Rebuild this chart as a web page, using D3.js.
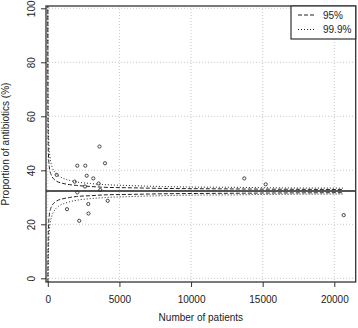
<!DOCTYPE html>
<html>
<head>
<meta charset="utf-8">
<script src="https://cdn.jsdelivr.net/npm/d3@7"></script>
<style>
  body { margin: 0; background: #fff; }
  svg text { font-family: "Liberation Sans", Arial, sans-serif; fill: #222; }
</style>
</head>
<body>
<div id="chart"></div>
<script>
  // Hospitals: number of patients and proportion receiving antibiotics (%)
  const nPatients = [3609, 2059, 2618, 3993, 2716, 3176, 621, 1878, 2597, 3553,
                     3665, 2059, 4181, 2827, 2841, 1340, 2192, 13717, 15211, 20656];
  const proportions = [48.8, 41.7, 41.7, 42.6, 38.0, 37.0, 38.3, 35.8, 34.0, 35.1,
                       32.7, 31.8, 28.7, 27.5, 24.0, 25.6, 21.3, 37.0, 34.8, 23.4];

  const overallMean = 32.3;

  // Funnel control limits
  const limitN = [1, 2, 3, 5, 8, 12, 20, 30, 50, 75, 100, 150, 200, 300, 500, 750,
                  1000, 1500, 2000, 3000, 4000, 6000, 8000, 10000, 13000, 16000, 20600];
  const upper95 = [124, 97.1, 85.2, 73.3, 64.7, 58.8, 52.8, 49.0, 45.3, 42.9, 41.5, 39.8, 38.8, 37.6,
                   36.4, 35.6, 35.2, 34.7, 34.4, 34.0, 33.7, 33.5, 33.3, 33.2, 33.1, 33.0, 32.9];
  const lower95 = [-59.4, -32.5, -20.6, -8.7, -0.1, 5.8, 11.8, 15.6, 19.3, 21.7, 23.1, 24.8, 25.8, 27.0,
                   28.2, 29.0, 29.4, 29.9, 30.3, 30.6, 30.9, 31.1, 31.3, 31.4, 31.5, 31.6, 31.7];
  const upper999 = [186, 141.1, 121.1, 101.1, 86.7, 76.7, 66.7, 60.4, 54.1, 50.1, 47.7, 44.9, 43.2, 41.2,
                    39.2, 37.9, 37.2, 36.3, 35.7, 35.1, 34.7, 34.3, 34.0, 33.8, 33.7, 33.5, 33.4];
  const lower999 = [-121.5, -76.5, -56.5, -36.5, -22.1, -12.1, -2.1, 4.2, 10.5, 14.5, 16.9, 19.7, 21.4, 23.4,
                    25.4, 26.7, 27.4, 28.3, 28.9, 29.5, 29.9, 30.3, 30.6, 30.8, 30.9, 31.1, 31.2];

  const xTicks = [0, 5000, 10000, 15000, 20000];
  const yTicks = [0, 20, 40, 60, 80, 100];

  const legendItems = [
    { label: '95%', dash: '4,2' },
    { label: '99.9%', dash: '1,2' }
  ];

  const W = 358, H = 328;
  const box = { left: 46, right: 355.7, top: 6, bottom: 282 };

  const svg = d3.select('#chart').append('svg')
    .attr('width', W)
    .attr('height', H);

  const x = d3.scaleLinear().domain([-126, 21494]).range([box.left, box.right]);
  const y = d3.scaleLinear().domain([-1.37, 100.85]).range([box.bottom, box.top]);

  svg.append('defs').append('clipPath')
    .attr('id', 'plot-clip')
    .append('rect')
    .attr('x', box.left).attr('y', box.top)
    .attr('width', box.right - box.left)
    .attr('height', box.bottom - box.top);

  // Grid
  const grid = svg.append('g')
    .attr('stroke', '#c8c8c8')
    .attr('stroke-width', 1)
    .attr('stroke-dasharray', '1,2');
  grid.selectAll('.vgrid').data(xTicks).enter().append('line')
    .attr('x1', d => x(d)).attr('x2', d => x(d))
    .attr('y1', box.top).attr('y2', box.bottom);
  grid.selectAll('.hgrid').data(yTicks).enter().append('line')
    .attr('x1', box.left).attr('x2', box.right)
    .attr('y1', d => y(d)).attr('y2', d => y(d));

  const plot = svg.append('g').attr('clip-path', 'url(#plot-clip)');

  // Overall mean
  plot.append('line')
    .attr('x1', box.left).attr('x2', box.right)
    .attr('y1', y(overallMean)).attr('y2', y(overallMean))
    .attr('stroke', '#555')
    .attr('stroke-width', 2);

  const line = vals => d3.line()
    .x((d, i) => x(limitN[i]))
    .y(d => y(d))
    .curve(d3.curveMonotoneX)(vals);

  [[upper95, '4,2'], [lower95, '4,2'], [upper999, '1,2'], [lower999, '1,2']].forEach(([vals, dash]) => {
    plot.append('path')
      .attr('d', line(vals))
      .attr('fill', 'none')
      .attr('stroke', '#222')
      .attr('stroke-width', 1)
      .attr('stroke-dasharray', dash);
  });

  // Hospitals
  plot.selectAll('.pt')
    .data(nPatients)
    .enter()
    .append('circle')
    .attr('cx', d => x(d))
    .attr('cy', (d, i) => y(proportions[i]))
    .attr('r', 1.6)
    .attr('fill', 'none')
    .attr('stroke', '#333')
    .attr('stroke-width', 0.9);

  // Box
  svg.append('rect')
    .attr('x', box.left).attr('y', box.top)
    .attr('width', box.right - box.left)
    .attr('height', box.bottom - box.top)
    .attr('fill', 'none')
    .attr('stroke', '#333')
    .attr('stroke-width', 1.3);

  // Axes
  const xAxis = svg.append('g')
    .attr('transform', `translate(0,${box.bottom})`)
    .call(d3.axisBottom(x).tickValues(xTicks).tickSize(5).tickPadding(9).tickFormat(d3.format('d')));
  xAxis.select('.domain').remove();
  xAxis.selectAll('line').attr('stroke', '#333');
  xAxis.selectAll('text').style('font-size', '10px').attr('fill', '#222');

  const yAxis = svg.append('g')
    .attr('transform', `translate(${box.left},0)`)
    .call(d3.axisLeft(y).tickValues(yTicks).tickSize(5).tickFormat(d3.format('d')));
  yAxis.select('.domain').remove();
  yAxis.selectAll('line').attr('stroke', '#333');
  yAxis.selectAll('text')
    .style('font-size', '10px')
    .attr('fill', '#222')
    .attr('x', null)
    .attr('text-anchor', 'middle')
    .attr('transform', 'translate(-15,0) rotate(-90)')
    .attr('dy', '0.35em');

  // Axis titles
  svg.append('text')
    .attr('x', (box.left + box.right) / 2)
    .attr('y', 321)
    .attr('text-anchor', 'middle')
    .style('font-size', '10px')
    .text('Number of patients');

  svg.append('text')
    .attr('transform', `translate(9,${(box.top + box.bottom) / 2}) rotate(-90)`)
    .attr('text-anchor', 'middle')
    .style('font-size', '10px')
    .text('Proportion of antibiotics (%)');

  // Legend
  const legend = svg.append('g');
  legend.append('rect')
    .attr('x', 291).attr('y', box.top)
    .attr('width', box.right - 291).attr('height', 33)
    .attr('fill', '#fff')
    .attr('stroke', '#333')
    .attr('stroke-width', 1.2);
  legendItems.forEach((item, i) => {
    const ly = 15 + i * 14.5;
    legend.append('line')
      .attr('x1', 298).attr('x2', 315)
      .attr('y1', ly).attr('y2', ly)
      .attr('stroke', '#222')
      .attr('stroke-dasharray', item.dash);
    legend.append('text')
      .attr('x', 323)
      .attr('y', ly + 3.5)
      .style('font-size', '10px')
      .text(item.label);
  });
</script>
</body>
</html>
